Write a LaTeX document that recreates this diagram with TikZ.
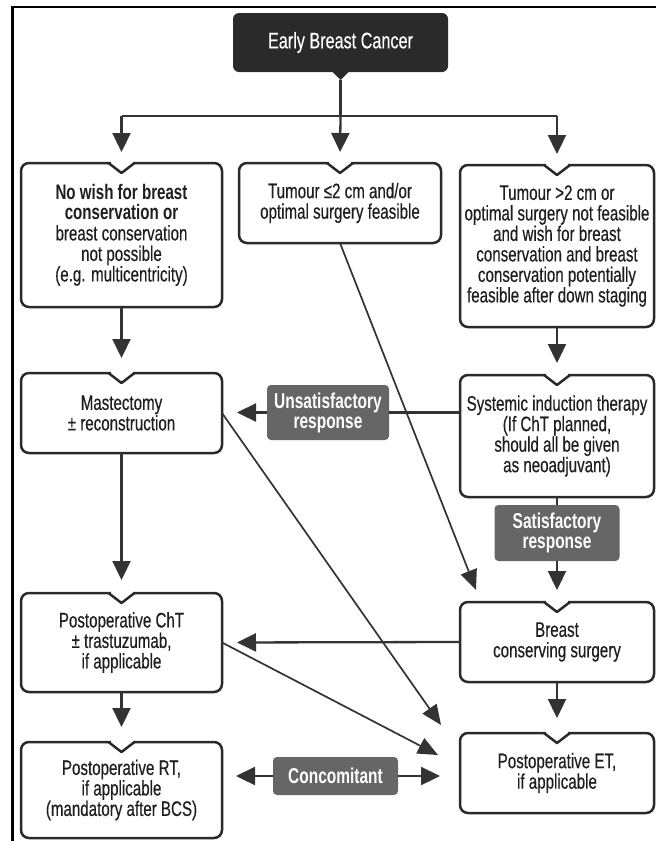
\documentclass[tikz,border=0pt]{standalone}
\usepackage{fontspec}
\setmainfont[FakeStretch=0.72, UprightFeatures={FakeBold=0.35}]{Liberation Sans}
\usetikzlibrary{arrows.meta,calc}
\definecolor{edgecol}{HTML}{2A2A2A}
\definecolor{conncol}{HTML}{333333}
\definecolor{tagfill}{HTML}{666666}
\definecolor{titlefill}{HTML}{2A2A2A}
\definecolor{txtcol}{HTML}{1E1E1E}
\newcommand\notchbox[1]{%
  \draw[boxline, rounded corners=8pt] (#1.north west) rectangle (#1.south east);
  \fill[white] ($(#1.north)+(-11,-2.5)$) rectangle ($(#1.north)+(11,2.5)$);
  \draw[boxline] ($(#1.north)+(-13,0)$) -- ($(#1.north)+(0,10)$) -- ($(#1.north)+(13,0)$);}
\tikzset{
  boxnode/.style={inner sep=0pt, outer sep=0pt, align=center, text=txtcol,
    font=\fontsize{21}{20.5}\selectfont},
  boxline/.style={draw=edgecol, line width=2.5pt, line join=round},
  conn/.style={draw=conncol, line width=2.3pt},
  arr/.style={conn, -{Triangle[width=18pt,length=19pt]}},
  diag/.style={draw=conncol, line width=1.7pt, -{Triangle[width=17pt,length=20pt]}},
  tag/.style={fill=tagfill, rounded corners=4pt, text=white, align=center,
    inner sep=0pt, outer sep=0pt, font=\bfseries\fontsize{21.5}{20}\selectfont},
}
\begin{document}
\begin{tikzpicture}[x=1pt,y=-1pt]
\useasboundingbox (0,0) rectangle (656,841);
\fill[white] (0,0) rectangle (656,841);
% frame
\draw[black, line width=2.5pt] (12.7,841) -- (12.7,7) -- (656,7);

% title
\node[boxnode, fill=titlefill, rounded corners=6pt, text=white, minimum width=215pt,
  minimum height=59pt, font=\fontsize{22.5}{22}\selectfont] (title) at (340.5,42.5) {Early Breast Cancer};
\fill[titlefill] ($(title.south)+(-9,-1)$) -- ($(title.south)+(0,8)$) -- ($(title.south)+(9,-1)$) -- cycle;
\coordinate (ptip) at ($(title.south)+(0,8)$);

% boxes
\node[boxnode, minimum width=201pt, minimum height=144pt] (A) at (121.5,235)
  {\bfseries No wish for breast\\\bfseries conservation or\\breast conservation\\not possible\\(e.g. multicentricity)};
\node[boxnode, minimum width=202pt, minimum height=80pt] (B) at (340,203)
  {Tumour ≤2 cm and/or\\optimal surgery feasible};
\node[boxnode, minimum width=194pt, minimum height=162pt] (C) at (557,246)
  {Tumour >2 cm or\\optimal surgery not feasible\\and wish for breast\\conservation and breast\\conservation potentially\\feasible after down staging};
\node[boxnode, minimum width=201pt, minimum height=80pt] (mast) at (121.5,413)
  {Mastectomy\\± reconstruction};
\node[boxnode, minimum width=194pt, minimum height=122pt] (sys) at (557,436)
  {Systemic induction therapy\\(If ChT planned,\\should all be given\\as neoadjuvant)};
\node[boxnode, minimum width=201pt, minimum height=99pt] (cht) at (121.5,642.5)
  {Postoperative ChT\\± trastuzumab,\\if applicable};
\node[boxnode, minimum width=194pt, minimum height=80pt] (bcs) at (557,642)
  {Breast\\conserving surgery};
\node[boxnode, minimum width=201pt, minimum height=96pt] (rt) at (121.5,790)
  {Postoperative RT,\\if applicable\\(mandatory after BCS)};
\node[boxnode, minimum width=194pt, minimum height=80pt] (et) at (557,773)
  {Postoperative ET,\\if applicable};
\foreach \b in {A,B,C,mast,sys,cht,bcs,rt,et} {\notchbox{\b}}

% tags
\node[tag, minimum width=122pt, minimum height=55pt] (unsat) at (328,412.5) {Unsatisfactory\\response};
\node[tag, minimum width=125pt, minimum height=56pt] (sat) at (557,533) {Satisfactory\\response};
\node[tag, minimum width=125pt, minimum height=38pt] (conc) at (335.5,776) {Concomitant};

% top distribution
\coordinate (bar) at (340.5,116);
\draw[conn] (ptip) -- (bar);
\draw[conn] (A.north |- bar) -- (C.north |- bar);
\draw[arr, shorten >=11pt] (A.north |- bar) -- (A.north);
\draw[arr, shorten >=11pt] (bar) -- (B.north);
\draw[arr, shorten >=11pt] (C.north |- bar) -- (C.north);

% vertical flows
\draw[arr, shorten >=15pt] (A.south) -- (mast.north);
\draw[arr, shorten >=12pt] (C.south) -- (sys.north);
\draw[arr, shorten >=13pt] (mast.south) -- (cht.north);
\draw[arr, shorten >=15pt] (cht.south) -- (rt.north);
\draw[arr, shorten >=15pt] (bcs.south) -- (et.north);
\draw[conn] (sys.south) -- (sat.north);
\draw[arr, shorten >=12pt] (sat.south) -- (bcs.north);

% horizontal flows
\draw[conn] (sys.west |- unsat.east) -- (unsat.east);
\draw[arr, shorten >=15pt] (unsat.west) -- (mast.east |- unsat.west);
\draw[arr, shorten >=15pt] (bcs.west) -- (cht.east);
\draw[arr, shorten >=14pt] (conc.west) -- (rt.east |- conc.west);
\draw[arr, shorten >=20pt] (conc.east) -- (et.west |- conc.east);

% diagonals
\coordinate (tB) at (476,590);
\coordinate (tM) at (441,725);
\coordinate (tC) at (438,755);
\draw[diag] (B.south) -- (tB);
\draw[diag] (mast.east) -- (tM);
\draw[diag] (cht.east) -- (tC);
\end{tikzpicture}
\end{document}
